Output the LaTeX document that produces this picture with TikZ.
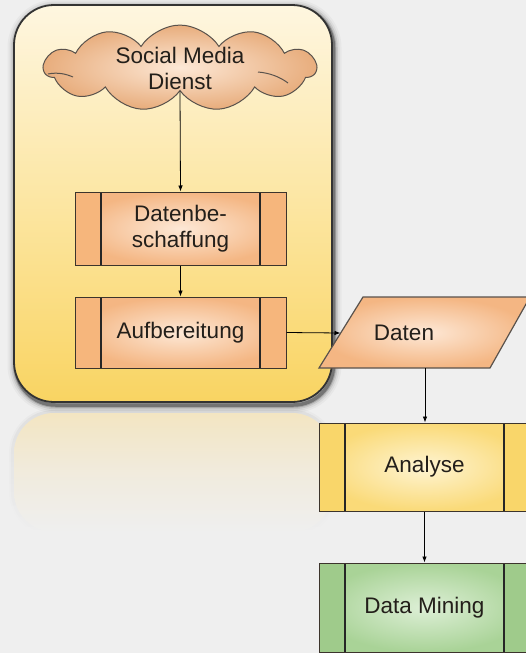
\documentclass[tikz,border=0pt]{standalone}
\usepackage{fontspec}
\setmainfont{Liberation Sans}
\usetikzlibrary{shapes.symbols,calc,arrows.meta,fadings}

\definecolor{bg}{HTML}{EFEFEF}
\definecolor{frametop}{HTML}{FEF6E0}
\definecolor{framemid}{HTML}{FCE6A2}
\definecolor{framebot}{HTML}{F9D462}
\definecolor{frameline}{HTML}{333333}
\definecolor{reftop}{HTML}{F3E5C2}
\definecolor{orin}{HTML}{FDE8D6}
\definecolor{orout}{HTML}{F4B683}
\definecolor{orbar}{HTML}{F6B67C}
\definecolor{yein}{HTML}{FEF4D2}
\definecolor{yeout}{HTML}{FADA78}
\definecolor{yebar}{HTML}{F9D66A}
\definecolor{grin}{HTML}{DDEFD6}
\definecolor{grout}{HTML}{A9D397}
\definecolor{grbar}{HTML}{9FCB8B}
\definecolor{edge}{HTML}{3C342C}
\definecolor{txt}{HTML}{231F1A}

\tikzset{
  label font/.style={font=\fontsize{22.5}{26}\selectfont, text=txt, align=center},
  proc/.style n args={3}{
    draw=edge, line width=1pt, label font,
    minimum width=211pt, inner sep=0pt,
    inner color=#1, outer color=#2,
    path picture={
      \fill[#3] (path picture bounding box.north west)
        rectangle ([xshift=26pt]path picture bounding box.south west);
      \fill[#3] (path picture bounding box.north east)
        rectangle ([xshift=-26pt]path picture bounding box.south east);
      \draw[black!85, line width=1.2pt]
        ([xshift=26pt]path picture bounding box.north west) --
        ([xshift=26pt]path picture bounding box.south west);
      \draw[black!85, line width=1.2pt]
        ([xshift=-26pt]path picture bounding box.north east) --
        ([xshift=-26pt]path picture bounding box.south east);
    }
  },
  curl/.style={draw=edge!85, line width=1pt},
  flow/.style={draw=black, line width=0.8pt, -{Latex[length=6pt,width=4.5pt]}}
}

\begin{document}
\begin{tikzpicture}[x=1pt, y=-1pt]
\useasboundingbox[fill=bg] (0,0) rectangle (526,653);

% soft shadow behind the frame
\foreach \w/\o in {16/0.03, 12/0.05, 8.5/0.09, 5.5/0.16, 3.5/0.3}
  \draw[line width=\w pt, black, opacity=\o, rounded corners=40pt]
    (15.5,7.5) rectangle (333.5,405);

% mirrored reflection of the frame, with its own faint shadow
\foreach \w/\o in {10/0.025, 6/0.04}
  \draw[black, line width=\w pt, opacity=\o, path fading=south, rounded corners=40pt]
    (14,413) rectangle (332,532);
\path[top color=reftop, bottom color=bg, middle color=reftop!40!bg, rounded corners=40pt]
  (14,413) rectangle (332,532);

% frame
\path[draw=frameline, line width=1.8pt, rounded corners=40pt,
      top color=frametop, bottom color=framebot, middle color=framemid]
  (14,5) rectangle (332,402);

% cloud
\node[cloud, cloud puffs=11, cloud puff arc=115, cloud ignores aspect,
      minimum width=272pt, minimum height=78pt, inner sep=0pt,
      draw=edge!85, line width=1pt, inner color=orin, outer color=orout!95!black,
      label font] (sm) at (180,68) {Social Media\\Dienst};
% inner folds of the cloud outline
\draw[curl] (48,74) .. controls (58,72) and (66,74) .. (73,77);
\draw[curl] (258,72) .. controls (270,73) and (280,77) .. (288,83);

% process boxes
\node[proc={orin}{orout}{orbar}, minimum height=73pt] (datb) at (180.5,228.5)
  {Datenbe-\\schaffung};
\node[proc={orin}{orout}{orbar}, minimum height=71pt] (aufb) at (180.5,332.5)
  {Aufbereitung};

% data parallelogram
\path[draw=edge!85, line width=1.2pt, inner color=orin, outer color=orout]
  (363,297) -- (530,297) -- (490,368) -- (319,368) -- cycle;
\node[label font] (daten) at (404,333) {Daten};
\coordinate (datenW) at (340.5,333);
\coordinate (datenS) at (425,368);

\node[proc={yein}{yeout}{yebar}, minimum height=88pt] (ana) at (424.5,467)
  {Analyse};
\node[proc={grin}{grout}{grbar}, minimum height=89pt] (dm) at (424.5,607.5)
  {Data Mining};

% connectors
\draw[flow] (sm.south) -- (datb.north);
\draw[flow] (datb.south) -- (aufb.north);
\draw[flow] (aufb.east) -- (datenW);
\draw[flow] (datenS) -- (datenS |- ana.north);
\draw[flow] (ana.south) -- (dm.north);
\end{tikzpicture}
\end{document}
